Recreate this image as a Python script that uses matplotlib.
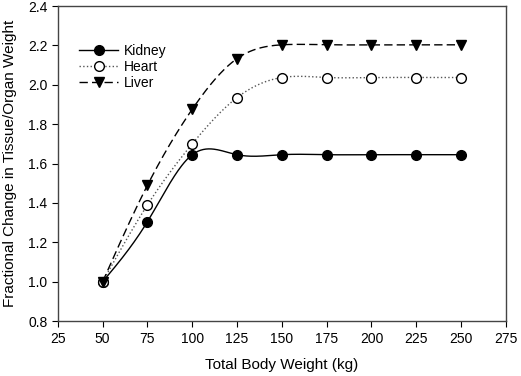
import numpy as np
import matplotlib

matplotlib.use('Agg')
import matplotlib.pyplot as plt

plt.rcParams['font.family'] = ['Liberation Sans', 'DejaVu Sans']

weights = [50, 75, 100, 125, 150, 175, 200, 225, 250]
kidney = [1.0, 1.305, 1.645, 1.645, 1.645, 1.645, 1.645, 1.645, 1.645]
heart = [1.0, 1.39, 1.70, 1.935, 2.037, 2.037, 2.037, 2.037, 2.037]
liver = [1.0, 1.49, 1.876, 2.133, 2.203, 2.203, 2.203, 2.203, 2.203]


def natural_spline(x, y, n=400):
    # natural cubic spline through the points, for a smooth connecting line
    x = np.asarray(x, float)
    y = np.asarray(y, float)
    k = len(x)
    h = np.diff(x)
    a = np.zeros((k, k))
    b = np.zeros(k)
    a[0, 0] = a[-1, -1] = 1.0
    for i in range(1, k - 1):
        a[i, i - 1] = h[i - 1]
        a[i, i] = 2 * (h[i - 1] + h[i])
        a[i, i + 1] = h[i]
        b[i] = 3 * ((y[i + 1] - y[i]) / h[i] - (y[i] - y[i - 1]) / h[i - 1])
    c = np.linalg.solve(a, b)
    xs = np.linspace(x[0], x[-1], n)
    idx = np.clip(np.searchsorted(x, xs) - 1, 0, k - 2)
    dx = xs - x[idx]
    hi = h[idx]
    bb = (y[idx + 1] - y[idx]) / hi - hi * (2 * c[idx] + c[idx + 1]) / 3
    dd = (c[idx + 1] - c[idx]) / (3 * hi)
    ys = y[idx] + bb * dx + c[idx] * dx ** 2 + dd * dx ** 3
    return xs, ys


fig = plt.figure(figsize=(5.21, 3.76), dpi=100)
ax = fig.add_axes([0.111, 0.146, 0.860, 0.838])

series = [
    ('Kidney', kidney, '-', 'o', 'black', 'black', 7),
    ('Heart', heart, ':', 'o', 'white', '#555555', 7),
    ('Liver', liver, (0, (6, 3)), 'v', 'black', 'black', 6.5),
]
for name, vals, ls, mk, face, lc, ms in series:
    xs, ys = natural_spline(weights, vals)
    ax.plot(xs, ys, linestyle=ls, color=lc, linewidth=1.0, zorder=2)
    ax.plot(weights, vals, linestyle='none', marker=mk, markersize=ms,
            markerfacecolor=face, markeredgecolor='black', markeredgewidth=1.0, zorder=3)
    ax.plot([], [], linestyle=ls, color=lc, linewidth=1.0, marker=mk, markersize=ms,
            markerfacecolor=face, markeredgecolor='black', label=name)

ax.set_xlim(25, 275)
ax.set_ylim(0.8, 2.4)
ax.set_xticks(np.arange(25, 276, 25))
ax.set_yticks(np.arange(0.8, 2.41, 0.2))
ax.yaxis.set_major_formatter(matplotlib.ticker.FormatStrFormatter('%.1f'))
ax.tick_params(direction='out', length=4, labelsize=10, width=0.8)
for s in ax.spines.values():
    s.set_color('#444444')
    s.set_linewidth(1.0)

ax.set_xlabel('Total Body Weight (kg)', fontsize=11, labelpad=9)
ax.set_ylabel('Fractional Change in Tissue/Organ Weight', fontsize=11, labelpad=8)

ax.legend(loc='upper left', bbox_to_anchor=(0.02, 0.92), frameon=False, fontsize=10,
          handlelength=2.8, handletextpad=0.4, labelspacing=0.15)

fig.savefig('out.png', dpi=100)
